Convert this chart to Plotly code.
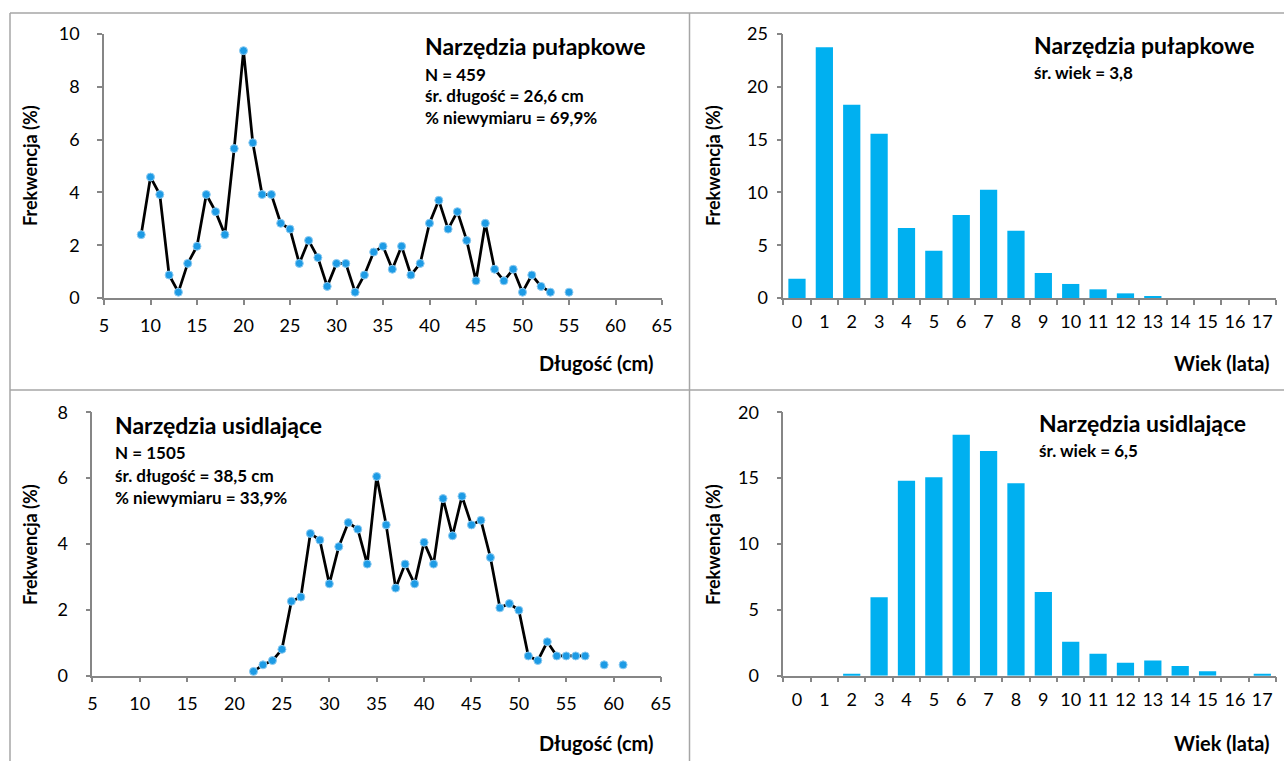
import plotly.graph_objects as go

# Length-frequency data (Frekwencja, %) by length class (cm)
trap_len = list(range(9, 56))
trap_freq = [2.40, 4.58, 3.92, 0.87, 0.22, 1.31, 1.96, 3.92, 3.27, 2.40,
             5.66, 9.37, 5.88, 3.92, 3.92, 2.83, 2.61, 1.31, 2.18, 1.53,
             0.44, 1.31, 1.31, 0.22, 0.87, 1.74, 1.96, 1.09, 1.96, 0.87,
             1.31, 2.83, 3.70, 2.61, 3.27, 2.18, 0.65, 2.83, 1.09, 0.65,
             1.09, 0.22, 0.87, 0.44, 0.22, None, 0.22]

gill_len = list(range(22, 62))
gill_freq = [0.13, 0.33, 0.46, 0.80, 2.26, 2.39, 4.32, 4.12, 2.79, 3.92,
             4.65, 4.45, 3.39, 6.05, 4.58, 2.66, 3.39, 2.79, 4.05, 3.39,
             5.38, 4.25, 5.45, 4.58, 4.72, 3.59, 2.06, 2.19, 1.99, 0.60,
             0.46, 1.03, 0.60, 0.60, 0.60, 0.60, None, 0.33, None, 0.33]

# Age-frequency data (Frekwencja, %) by age (lata)
ages = [str(a) for a in range(0, 18)]
trap_age_freq = [1.83, 23.74, 18.31, 15.56, 6.63, 4.48, 7.86, 10.26, 6.38, 2.37,
                 1.33, 0.82, 0.44, 0.10, 0, 0, 0, 0]
gill_age_freq = [0, 0, 0.15, 5.95, 14.81, 15.06, 18.30, 17.06, 14.61, 6.35,
                 2.58, 1.67, 0.99, 1.16, 0.73, 0.33, 0, 0.15]

W, H = 1284, 761
FONT = "Lato"
AXIS_GREY = "#868686"
FRAME_GREY = "#A6A6A6"
BAR_BLUE = "#00B0F0"
DOT_BLUE = "#1D9BE5"


def px_x(v):
    return v / W


def px_y(v):
    return 1 - v / H


fig = go.Figure()

line_style = dict(color="black", width=2.75)
dot_style = dict(size=8, color=DOT_BLUE, line=dict(color="#8CCBF2", width=1))
bar_style = dict(color=BAR_BLUE, line=dict(width=0))

fig.add_trace(go.Scatter(x=trap_len, y=trap_freq, mode="lines+markers",
                         line=line_style, marker=dot_style, connectgaps=False,
                         xaxis="x", yaxis="y", showlegend=False))
fig.add_trace(go.Bar(x=ages, y=trap_age_freq, marker=bar_style,
                     xaxis="x2", yaxis="y2", showlegend=False))
fig.add_trace(go.Scatter(x=gill_len, y=gill_freq, mode="lines+markers",
                         line=line_style, marker=dot_style, connectgaps=False,
                         xaxis="x3", yaxis="y3", showlegend=False))
fig.add_trace(go.Bar(x=ages, y=gill_age_freq, marker=bar_style,
                     xaxis="x4", yaxis="y4", showlegend=False))

tick_font = dict(family=FONT, size=18, color="black")
axis_common = dict(showgrid=False, zeroline=False, showline=True, linecolor=AXIS_GREY,
                   linewidth=1.5, ticks="outside", ticklen=5, tickcolor=AXIS_GREY,
                   tickwidth=1.5, tickfont=tick_font, automargin=False)


def lin_x(dom, anchor):
    return dict(domain=dom, anchor=anchor, range=[5, 65], tickvals=list(range(5, 70, 5)),
                ticklabelstandoff=6, tickangle=0, **axis_common)


def cat_x(dom, anchor):
    return dict(domain=dom, anchor=anchor, type="category", range=[-0.5, 17.5],
                tickson="boundaries", ticklabelstandoff=7, tickangle=0, **axis_common)


def val_y(dom, anchor, top, step, standoff):
    return dict(domain=dom, anchor=anchor, range=[0, top], tickvals=list(range(0, top + 1, step)),
                ticklabelstandoff=standoff, **axis_common)


top_dom = [px_y(298), px_y(34)]
bot_dom = [px_y(675.7), px_y(412.3)]
bar_x_dom = [px_x(783.3), px_x(1276)]

fig.update_layout(
    width=W, height=H,
    autosize=False,
    margin=dict(l=0, r=0, t=0, b=0, pad=0),
    paper_bgcolor="white", plot_bgcolor="white",
    bargap=0.37,
    font=dict(family=FONT, color="black"),
    xaxis=lin_x([px_x(104), px_x(662)], "y"),
    yaxis=val_y(top_dom, "x", 10, 2, 14),
    xaxis2=cat_x(bar_x_dom, "y2"),
    yaxis2=val_y(top_dom, "x2", 25, 5, 5),
    xaxis3=lin_x([px_x(92.4), px_x(661)], "y3"),
    yaxis3=val_y(bot_dom, "x3", 8, 2, 14),
    xaxis4=cat_x(bar_x_dom, "y4"),
    yaxis4=val_y(bot_dom, "x4", 20, 5, 14),
)

# Panel frame lines
frame = dict(color=FRAME_GREY, width=1.5)
for x0, y0, x1, y1 in [(10, 13, 1284, 13), (10, 13, 10, 761), (689.5, 13, 689.5, 761),
                       (10, 390, 1284, 390)]:
    fig.add_shape(type="line", xref="paper", yref="paper",
                  x0=px_x(x0), y0=px_y(y0), x1=px_x(x1), y1=px_y(y1), line=frame)


def note(text, x, y, size, xanchor="left", angle=0):
    fig.add_annotation(text=text, xref="paper", yref="paper", x=px_x(x), y=px_y(y),
                       xanchor=xanchor, yanchor="middle", showarrow=False, textangle=angle,
                       font=dict(family=FONT, size=size, color="black"))


# Axis titles
for yc in (166, 545):
    note("<b>Frekwencja (%)</b>", 30, yc, 18, xanchor="center", angle=-90)
    note("<b>Frekwencja (%)</b>", 713, yc, 18, xanchor="center", angle=-90)
note("<b>Długość (cm)</b>", 656, 363, 20, xanchor="right")
note("<b>Długość (cm)</b>", 656, 743, 20, xanchor="right")
note("<b>Wiek (lata)</b>", 1271, 363, 20, xanchor="right")
note("<b>Wiek (lata)</b>", 1271, 743, 20, xanchor="right")

# Panel labels
note("<b>Narzędzia pułapkowe</b>", 423, 46, 23)
note("<b>N = 459</b>", 423, 74.5, 17)
note("<b>śr. długość = 26,6 cm</b>", 423, 96, 17)
note("<b>% niewymiaru = 69,9%</b>", 423, 117.5, 17)

note("<b>Narzędzia pułapkowe</b>", 1032, 45, 23)
note("<b>śr. wiek = 3,8</b>", 1032, 72, 17)

note("<b>Narzędzia usidlające</b>", 113, 425, 23)
note("<b>N = 1505</b>", 113, 452, 17)
note("<b>śr. długość = 38,5 cm</b>", 113, 475, 17)
note("<b>% niewymiaru = 33,9%</b>", 113, 497, 17)

note("<b>Narzędzia usidlające</b>", 1037, 423, 23)
note("<b>śr. wiek = 6,5</b>", 1037, 450, 17)

fig.write_html("out.html", post_script="document.body.style.margin='0';document.body.style.overflow='hidden';")
